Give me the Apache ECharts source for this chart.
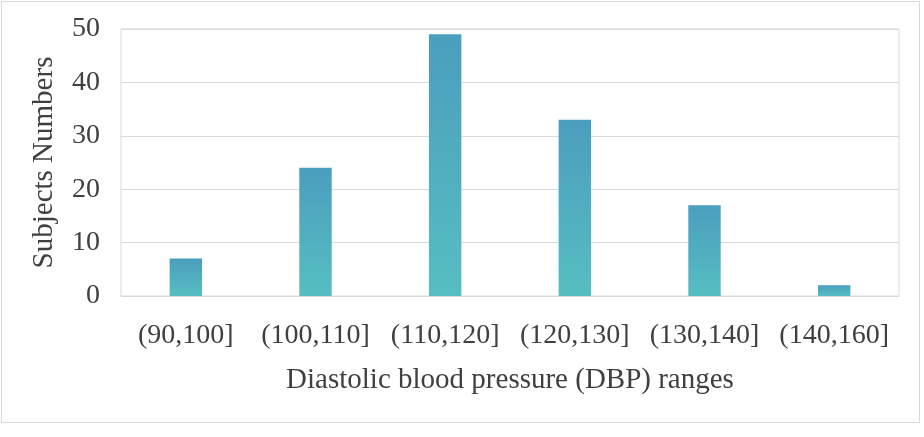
<!DOCTYPE html>
<html>
<head>
<meta charset="utf-8">
<script src="https://cdn.jsdelivr.net/npm/echarts@6/dist/echarts.min.js"></script>
<style>
html,body{margin:0;padding:0;background:#fff;}
#wrap{position:absolute;left:1px;top:1px;width:919px;height:422px;border:1px solid #d9d9d9;box-sizing:border-box;}
#chart{position:absolute;left:0;top:0;width:924px;height:437px;}
</style>
</head>
<body>
<div id="wrap"></div>
<div id="chart"></div>
<script>
const categories = ['(90,100]', '(100,110]', '(110,120]', '(120,130]', '(130,140]', '(140,160]'];
const subjects = [7, 24, 49, 33, 17, 2];
const yTicks = [0, 10, 20, 30, 40, 50];

const font = '"Liberation Serif", "Times New Roman", serif';
const chart = echarts.init(document.getElementById('chart'), null, {renderer: 'canvas'});
chart.setOption({
  backgroundColor: 'transparent',
  animation: false,
  grid: {left: 121, right: 25, top: 29, bottom: 141, show: true, borderColor: '#d9d9d9', borderWidth: 1},
  xAxis: {
    type: 'category',
    data: categories,
    name: 'Diastolic blood pressure (DBP) ranges',
    nameLocation: 'middle',
    nameGap: 70,
    nameTextStyle: {fontFamily: font, fontSize: 29, color: '#404040'},
    axisLine: {show: true, lineStyle: {color: '#d9d9d9'}},
    axisTick: {show: false},
    axisLabel: {fontFamily: font, fontSize: 28, color: '#404040', margin: 26, interval: 0}
  },
  yAxis: {
    type: 'value',
    min: 0, max: 50, interval: 10,
    name: 'Subjects Numbers',
    nameLocation: 'middle',
    nameGap: 62,
    nameTextStyle: {fontFamily: font, fontSize: 29, color: '#404040'},
    axisLine: {show: false},
    axisTick: {show: false},
    splitLine: {lineStyle: {color: '#d9d9d9', width: 1}},
    axisLabel: {fontFamily: font, fontSize: 28, color: '#404040', margin: 21,
      formatter: v => yTicks.includes(v) ? String(v) : ''}
  },
  series: [{
    type: 'bar',
    data: subjects,
    barWidth: '25%',
    itemStyle: {
      color: new echarts.graphic.LinearGradient(0, 0, 0, 1, [
        {offset: 0, color: '#4a9ebe'},
        {offset: 1, color: '#56bec1'}
      ])
    }
  }]
});
</script>
</body>
</html>
